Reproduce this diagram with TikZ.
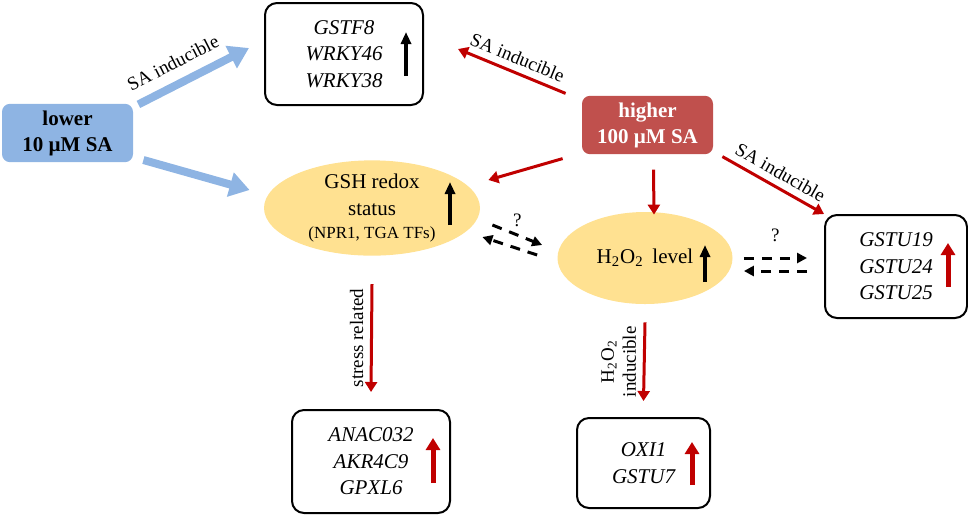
\documentclass[tikz,border=0pt]{standalone}
\usepackage{fontspec}
\setmainfont{Liberation Serif}
\usetikzlibrary{arrows.meta, calc, shapes.geometric}
\definecolor{saBlue}{RGB}{142,180,227}
\definecolor{saRed}{RGB}{192,80,77}
\definecolor{arrowRed}{RGB}{192,0,0}
\definecolor{redoxYellow}{RGB}{255,225,145}

\begin{document}
\begin{tikzpicture}[x=0.5pt, y=-0.5pt,
  genebox/.style={rectangle, draw=black, line width=1pt, rounded corners=6pt, align=center, font=\fontsize{10.5}{13.3}\selectfont\itshape},
  dosebox/.style={rectangle, rounded corners=4pt, minimum width=65.5pt, minimum height=28pt, align=center, font=\fontsize{10.5}{13}\selectfont\bfseries},
  stateellipse/.style={ellipse, fill=redoxYellow, inner sep=0pt, align=center, font=\fontsize{10.5}{13.3}\selectfont},
  bluearrow/.style={-{Triangle[length=10pt,width=12pt]}, line width=4pt, draw=saBlue},
  redarrow/.style={-{Triangle[length=5pt,width=6pt]}, line width=1.5pt, draw=arrowRed},
  dasharrow/.style={-{Triangle[length=5pt,width=5pt]}, line width=1.5pt, dash pattern=on 5pt off 4pt},
  upblack/.style={-{Triangle[length=6pt,width=5pt]}, line width=1.8pt},
  upred/.style={-{Triangle[length=6pt,width=7pt]}, line width=2.5pt, draw=arrowRed},
  edgelabel/.style={font=\fontsize{9.5}{11}\selectfont}
]
\useasboundingbox (0,0) rectangle (968,516);

\node[dosebox, fill=saBlue] (lowsa) at (67.5,133) {lower\\10 µM SA};
\node[dosebox, fill=saRed, text=white] (highsa) at (647.5,125) {higher\\100 µM SA};
\node[genebox, minimum width=79pt, minimum height=51pt] (gstf) at (344,54) {GSTF8\\WRKY46\\WRKY38};
\node[stateellipse, minimum width=108pt, minimum height=47pt] (gsh) at (372,208) {GSH redox\\status\\[-2pt]\fontsize{8.5}{10}\selectfont (NPR1, TGA TFs)};
\node[stateellipse, minimum width=87.5pt, minimum height=46pt] (hoo) at (645,258) {H\textsubscript{2}O\textsubscript{2}\, level};
\node[genebox, minimum width=71pt, minimum height=51.5pt] (gstu) at (896,266.5) {GSTU19\\GSTU24\\GSTU25};
\node[genebox, minimum width=79pt, minimum height=51.5pt] (anac) at (371,461.5) {ANAC032\\AKR4C9\\GPXL6};
\node[genebox, minimum width=66.5pt, minimum height=45pt] (oxi) at (643.5,463) {OXI1\\GSTU7};

\draw[bluearrow] ($(lowsa.north east)+(5,1)$) -- ($(gstf.west)+(-15,-6)$) node[pos=0.4, above=2pt, sloped, edgelabel] {SA inducible};
\draw[bluearrow] ($(lowsa.east)+(10,27)$) -- ($(gsh.west)+(-14,-18)$);

\draw[redarrow] ($(highsa.north west)+(-16,-2)$) -- ($(gstf.east)+(34,-5)$) node[midway, above, sloped, edgelabel] {SA inducible};
\draw[redarrow] ($(highsa.south west)+(-19,4)$) -- ($(gsh.east)+(8,-28)$);
\draw[redarrow] ($(highsa.south)+(6,15)$) -- ($(hoo.north)+(9,3)$);
\draw[redarrow] ($(highsa.south east)+(9,2)$) -- (gstu.north west) node[midway, above, sloped, edgelabel] {SA inducible};

\draw[dasharrow] ($(gsh.east)+(12,17)$) -- ($(hoo.west)+(-15,-13)$) node[midway, above, edgelabel] {?};
\draw[dasharrow] ($(hoo.west)+(-20,-3)$) -- ($(gsh.east)+(2,29)$);
\draw[dasharrow] ($(hoo.east)+(11,0)$) -- ($(gstu.west)+(-17,-8.5)$) node[midway, above=4pt, edgelabel] {?};
\draw[dasharrow] ($(gstu.west)+(-17,4.5)$) -- ($(hoo.east)+(11,13)$);

\draw[redarrow] ($(gsh.south)+(0,28)$) -- ($(anac.north)+(0,-17)$) node[midway, rotate=90, anchor=south, edgelabel] {stress related};
\draw[redarrow] ($(hoo.south)+(0,18)$) -- ($(oxi.north)+(0,-16)$) node[midway, rotate=90, anchor=south, edgelabel, align=center] {H\textsubscript{2}O\textsubscript{2}\\inducible};

\draw[upblack] ($(gstf.center)+(62,22)$) -- ++(0,-44);
\draw[upblack] ($(gsh.center)+(78,17)$) -- ++(0,-43);
\draw[upblack] ($(hoo.center)+(60,24)$) -- ++(0,-37);
\draw[upred] ($(gstu.center)+(52,20.5)$) -- ++(0,-44);
\draw[upred] ($(anac.center)+(62,21.5)$) -- ++(0,-45);
\draw[upred] ($(oxi.center)+(48.5,22)$) -- ++(0,-43);

\end{tikzpicture}
\end{document}
